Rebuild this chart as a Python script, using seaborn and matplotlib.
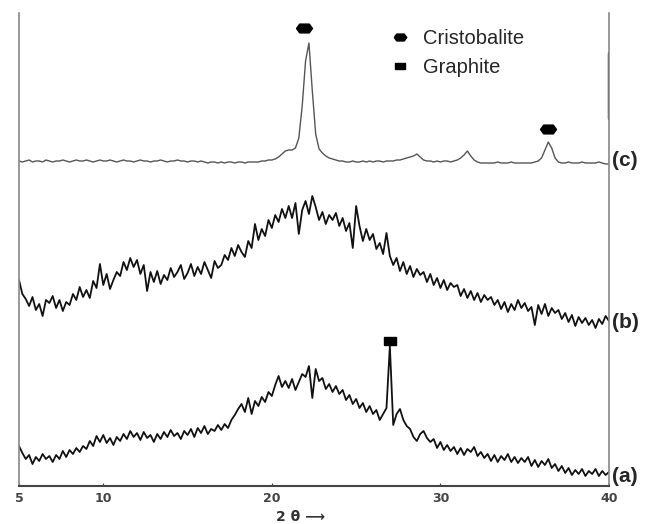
import numpy as np
import pandas as pd
import matplotlib.pyplot as plt
import seaborn as sns
from matplotlib.lines import Line2D

sns.set_theme(style="ticks")
plt.rcParams["font.family"] = ["Liberation Sans", "DejaVu Sans"]

# 2-theta sampling grid: 0.2 deg steps, 5 -> 40
theta = np.round(5.0 + 0.2 * np.arange(176), 1)

# intensities (arbitrary units, curves already stacked)
pattern_a = [
    40, 33, 27, 31, 22, 29, 25, 32, 27, 30,
    24, 31, 27, 35, 29, 36, 32, 38, 34, 40,
    37, 45, 40, 50, 44, 51, 43, 48, 41, 49,
    45, 52, 47, 55, 49, 53, 46, 54, 48, 51,
    44, 52, 47, 54, 49, 56, 50, 53, 47, 55,
    51, 57, 49, 58, 53, 60, 52, 57, 55, 61,
    56, 62, 58, 66, 71, 77, 82, 74, 88, 72,
    85, 80, 89, 84, 94, 90, 101, 110, 99, 105,
    98, 107, 96, 104, 112, 109, 120, 88, 117, 105,
    108, 97, 102, 94, 100, 92, 96, 86, 91, 82,
    87, 78, 83, 74, 80, 72, 76, 66, 72, 78,
    140, 61, 72, 77, 66, 60, 57, 49, 45, 52,
    55, 48, 44, 47, 38, 44, 36, 41, 35, 39,
    32, 38, 31, 37, 34, 39, 30, 34, 28, 32,
    25, 31, 24, 30, 26, 32, 24, 29, 23, 28,
    24, 29, 20, 26, 19, 25, 21, 27, 18, 22,
    15, 20, 13, 18, 11, 16, 12, 17, 10, 15,
    12, 17, 10, 15, 11, 14,
]
pattern_b = [
    206, 192, 187, 180, 189, 176, 182, 170, 186, 183,
    190, 178, 186, 175, 184, 181, 192, 186, 199, 189,
    196, 188, 205, 198, 222, 201, 212, 197, 206, 214,
    210, 224, 216, 228, 219, 226, 212, 221, 195, 214,
    204, 215, 202, 211, 206, 218, 209, 214, 221, 207,
    213, 222, 210, 219, 212, 224, 216, 208, 225, 218,
    221, 231, 226, 238, 230, 241, 234, 229, 245, 238,
    262, 246, 257, 250, 266, 258, 271, 264, 277, 268,
    280, 268, 283, 252, 276, 285, 272, 290, 279, 266,
    274, 262, 271, 266, 273, 260, 268, 255, 263, 238,
    280, 260, 245, 257, 246, 252, 237, 243, 232, 253,
    230, 221, 228, 215, 224, 212, 220, 209, 217, 211,
    214, 204, 212, 201, 208, 198, 206, 196, 203, 199,
    201, 190, 197, 188, 195, 186, 193, 184, 191, 186,
    189, 181, 186, 177, 184, 174, 182, 176, 186, 178,
    183, 175, 179, 161, 181, 172, 182, 170, 178, 173,
    176, 167, 173, 164, 171, 160, 169, 163, 168, 161,
    166, 158, 167, 162, 170, 165,
]
pattern_c = [
    325, 324, 325, 326, 324, 325, 325, 324, 326, 325,
    324, 325, 325, 326, 325, 324, 325, 326, 325, 325,
    326, 325, 324, 325, 326, 325, 325, 326, 325, 324,
    325, 326, 325, 325, 324, 325, 326, 325, 325, 324,
    325, 325, 326, 325, 324, 325, 325, 326, 325, 325,
    324, 325, 325, 324, 325, 324, 323, 324, 324, 323,
    324, 323, 324, 324, 323, 324, 324, 323, 324, 324,
    324, 324, 325, 325, 326, 326, 327, 329, 332, 335,
    336, 336, 338, 348, 380, 425, 443, 395, 352, 337,
    333, 330, 328, 327, 326, 325, 325, 324, 324, 325,
    324, 324, 325, 324, 325, 324, 325, 325, 324, 325,
    325, 325, 326, 326, 327, 328, 329, 330, 332, 329,
    326, 325, 325, 324, 325, 324, 325, 325, 324, 325,
    326, 328, 331, 335, 330, 326, 324, 323, 323, 323,
    323, 323, 324, 323, 323, 323, 324, 323, 323, 323,
    323, 323, 323, 324, 325, 328, 336, 344, 338, 328,
    324, 323, 323, 324, 323, 323, 323, 324, 323, 323,
    323, 323, 324, 323, 322, 322,
]

# phase markers above the peaks
cristobalite_theta = [21.9, 36.4]
cristobalite_y = [458, 357]
graphite_theta = [27.0]
graphite_y = [145]

sample_labels = ["(a)", "(b)", "(c)"]
label_y = [9, 164, 326]
tick_values = [5, 10, 20, 30, 40]

df = pd.DataFrame({
    "theta": np.tile(theta, 3),
    "intensity": pattern_a + pattern_b + pattern_c,
    "sample": np.repeat(["a", "b", "c"], len(theta)),
})

fig = plt.figure(figsize=(6.55, 5.24), dpi=100)
ax = fig.add_axes([19 / 655, 38 / 524, 590 / 655, 473 / 524])

sns.lineplot(data=df[df["sample"] != "c"], x="theta", y="intensity",
             units="sample", estimator=None, color="#111111", lw=1.3, ax=ax)
sns.lineplot(data=df[df["sample"] == "c"], x="theta", y="intensity",
             estimator=None, color="#555555", lw=1.0, ax=ax)

hex_marker = [(-1, 0), (-0.6, 0.55), (0.6, 0.55), (1, 0), (0.6, -0.55), (-0.6, -0.55), (-1, 0)]
rect_marker = [(-1, -0.65), (1, -0.65), (1, 0.65), (-1, 0.65), (-1, -0.65)]

ax.plot(cristobalite_theta, cristobalite_y, ls="none", marker=hex_marker,
        ms=11.5, color="black")
ax.plot(graphite_theta, graphite_y, ls="none", marker=rect_marker,
        ms=8, color="black")

handles = [
    Line2D([], [], ls="none", marker=hex_marker, ms=9, color="black"),
    Line2D([], [], ls="none", marker=rect_marker, ms=6.5, color="black"),
]
ax.legend(handles, ["Cristobalite", "Graphite"], loc="upper left",
          bbox_to_anchor=(0.636, 0.966), frameon=False, borderpad=0,
          borderaxespad=0, handlelength=0.6, handletextpad=0.85,
          labelspacing=0.5, prop={"size": 14.5})

for lab, y in zip(sample_labels, label_y):
    ax.text(40.2, y, lab, fontsize=15, fontweight="bold", va="center",
            ha="left", clip_on=False)

ax.set_xlim(5, 40)
ax.set_ylim(0, 473)
ax.set_xticks(tick_values)
ax.set_xticklabels([str(t) for t in tick_values], fontsize=9,
                   fontweight="bold", color="#333333", family="DejaVu Sans")
ax.set_yticks([])
ax.set_xlabel("")
ax.set_ylabel("")
ax.tick_params(axis="x", length=2, width=0.8, direction="in", pad=4, colors="#444444")

ax.spines["top"].set_visible(False)
for side in ["left", "right"]:
    ax.spines[side].set_color("#888888")
    ax.spines[side].set_linewidth(1.2)
ax.spines["bottom"].set_color("#444444")
ax.spines["bottom"].set_linewidth(1.5)
# darker stretch on the right frame seen in the scan
ax.axvline(40, ymin=0.778, ymax=0.915, color="#333333", lw=2.5)

fig.text(300 / 655, 1 - 517 / 524, "2 θ ⟶", ha="center", va="center",
         fontsize=10, fontweight="bold", color="#333333", family="DejaVu Sans")

fig.savefig("out.png", dpi=100)
